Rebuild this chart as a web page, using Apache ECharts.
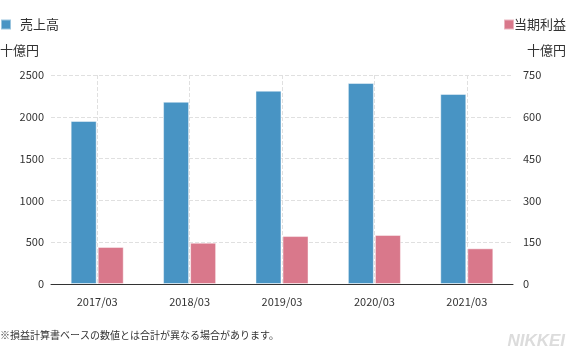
<!DOCTYPE html>
<html><head><meta charset="utf-8">
<script src="https://cdn.jsdelivr.net/npm/echarts@6/dist/echarts.min.js"></script>
<style>html,body{margin:0;padding:0;background:#fff}#c{width:567px;height:353px}</style>
</head><body><div id="c"></div>
<script>
const categories = ['2017/03','2018/03','2019/03','2020/03','2021/03'];
const sales = [1950, 2180, 2312, 2404, 2273];
const netIncome = [133, 148, 172, 176, 128];
const leftTicks = {min: 0, max: 2500, interval: 500};
const rightTicks = {min: 0, max: 750, interval: 150};
const unitLabel = '十億円';
const note = '※損益計算書ベースの数値とは合計が異なる場合があります。';

const FONT = '"Noto Sans CJK JP", "Noto Sans", sans-serif';
const chart = echarts.init(document.getElementById('c'), null, {renderer: 'canvas'});
chart.setOption({
  animation: false,
  textStyle: {fontFamily: FONT},
  legend: [
    {data: ['売上高'], left: 0, top: 18, padding: 0, icon: 'rect', itemWidth: 10, itemHeight: 10,
     textStyle: {fontSize: 13, color: '#333', fontFamily: FONT, padding: [0,0,0,4]}},
    {data: ['当期利益'], right: 1, top: 18, padding: 0, icon: 'rect', itemWidth: 10, itemHeight: 10,
     textStyle: {fontSize: 13, color: '#333', fontFamily: FONT, padding: [0,0,0,-5]}}
  ],
  grid: {left: 51, right: 54, top: 75, bottom: 69, containLabel: false},
  xAxis: {
    type: 'category', data: categories, boundaryGap: true,
    axisLine: {lineStyle: {color: '#333'}},
    axisTick: {alignWithLabel: true, lineStyle: {color: '#333'}},
    axisLabel: {color: '#333', fontSize: 11, margin: 12, fontFamily: FONT},
    splitLine: {show: true, alignWithLabel: true, lineStyle: {color: '#e0e0e0', type: 'dashed'}}
  },
  yAxis: [
    {type: 'value', min: leftTicks.min, max: leftTicks.max, interval: leftTicks.interval,
     axisLine: {show: false}, axisTick: {show: false},
     axisLabel: {color: '#333', fontSize: 11, margin: 7, fontFamily: FONT, formatter: v => String(v)},
     splitLine: {lineStyle: {color: '#e0e0e0', type: 'dashed'}}},
    {type: 'value', min: rightTicks.min, max: rightTicks.max, interval: rightTicks.interval,
     position: 'right',
     axisLine: {show: false}, axisTick: {show: false},
     axisLabel: {color: '#333', fontSize: 11, margin: 10, fontFamily: FONT, formatter: v => String(v)},
     splitLine: {show: false}}
  ],
  series: [
    {name: '売上高', type: 'bar', data: sales, yAxisIndex: 0, barWidth: 26, barGap: '4%',
     itemStyle: {color: '#4894c4', borderColor: 'rgba(255,255,255,0.45)', borderWidth: 1}},
    {name: '当期利益', type: 'bar', data: netIncome, yAxisIndex: 1, barWidth: 26, barGap: '4%',
     itemStyle: {color: '#d9788b', borderColor: 'rgba(255,255,255,0.45)', borderWidth: 1}}
  ],
  graphic: [
    {type: 'text', left: 0, top: 44, style: {text: unitLabel, fill: '#333', font: '13px ' + FONT}},
    {type: 'text', right: 1, top: 44, style: {text: unitLabel, fill: '#333', font: '13px ' + FONT}},
    {type: 'text', left: 0, top: 330, style: {text: note, fill: '#333', font: '10px ' + FONT}},
    {type: 'text', right: 2, top: 333, style: {text: 'NIKKEI', fill: '#dcdcdc', font: 'italic bold 17px "Liberation Sans", Arial, sans-serif'}}
  ]
});
</script></body></html>
